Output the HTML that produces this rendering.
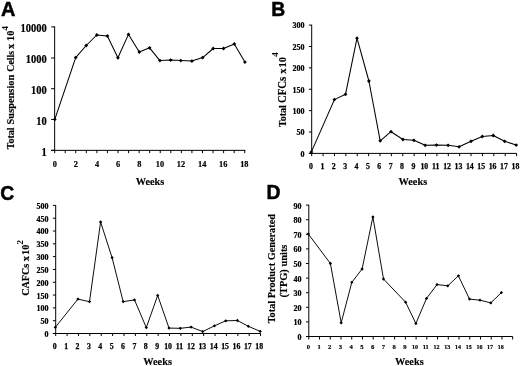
<!DOCTYPE html>
<html><head><meta charset="utf-8"><title>Figure</title>
<style>html,body{margin:0;padding:0;background:#fff;overflow:hidden;}svg{display:block;will-change:transform;filter:grayscale(1);}</style></head><body>
<svg width="520" height="366" viewBox="0 0 520 366">
<rect width="520" height="366" fill="#fff"/>
<g stroke="#000" stroke-width="1.0" fill="none" shape-rendering="auto">
<path d="M54.65 26.40V150.85"/>
<path d="M51.15 150.35H245.38"/>
<path d="M51.15 26.90H54.65"/>
<path d="M51.15 58.00H54.65"/>
<path d="M51.15 88.70H54.65"/>
<path d="M51.15 119.45H54.65"/>
<path d="M51.15 150.35H54.65"/>
<path d="M54.65 150.35V153.15"/>
<path d="M65.21 150.35V153.15"/>
<path d="M75.77 150.35V153.15"/>
<path d="M86.33 150.35V153.15"/>
<path d="M96.89 150.35V153.15"/>
<path d="M107.45 150.35V153.15"/>
<path d="M118.01 150.35V153.15"/>
<path d="M128.57 150.35V153.15"/>
<path d="M139.13 150.35V153.15"/>
<path d="M149.69 150.35V153.15"/>
<path d="M160.25 150.35V153.15"/>
<path d="M170.81 150.35V153.15"/>
<path d="M181.37 150.35V153.15"/>
<path d="M191.93 150.35V153.15"/>
<path d="M202.49 150.35V153.15"/>
<path d="M213.05 150.35V153.15"/>
<path d="M223.61 150.35V153.15"/>
<path d="M234.17 150.35V153.15"/>
<path d="M244.73 150.35V153.15"/>
</g>
<g font-family='"Liberation Serif", serif' font-weight="bold" font-size="10.5" text-anchor="end" fill="#000" stroke="#000" stroke-width="0.2">
<text transform="translate(46.70 32.06) scale(1 1.1)">10000</text>
<text transform="translate(46.70 63.16) scale(1 1.1)">1000</text>
<text transform="translate(46.70 93.86) scale(1 1.1)">100</text>
<text transform="translate(46.70 124.61) scale(1 1.1)">10</text>
<text transform="translate(46.70 155.51) scale(1 1.1)">1</text>
</g>
<g font-family='"Liberation Serif", serif' font-weight="bold" font-size="8.3" text-anchor="middle" fill="#000" stroke="#000" stroke-width="0.2">
<text x="54.80" y="166.80">0</text>
<text x="75.92" y="166.80">2</text>
<text x="97.04" y="166.80">4</text>
<text x="118.16" y="166.80">6</text>
<text x="139.28" y="166.80">8</text>
<text x="159.90" y="166.80">10</text>
<text x="181.02" y="166.80">12</text>
<text x="202.14" y="166.80">14</text>
<text x="223.26" y="166.80">16</text>
<text x="244.38" y="166.80">18</text>
</g>
<text transform="translate(150.00 184.90) scale(1 1.06)" font-family='"Liberation Serif", serif' font-weight="bold" font-size="10.5" text-anchor="middle" textLength="28.6" lengthAdjust="spacingAndGlyphs" stroke="#000" stroke-width="0.12">Weeks</text>
<path d="M54.80 119.40L75.70 57.60L86.20 45.50L96.80 35.00L107.40 36.00L117.90 57.80L128.50 34.40L139.30 52.00L149.60 47.80L159.90 60.60L170.70 60.10L180.80 60.60L191.90 61.10L202.70 57.60L213.20 48.50L223.50 48.50L234.30 44.00L244.90 62.10" fill="none" stroke="#000" stroke-width="1.05" stroke-linejoin="round"/>
<g fill="#000">
<path d="M54.80 117.50L56.70 119.40L54.80 121.30L52.90 119.40Z"/>
<path d="M75.70 55.70L77.60 57.60L75.70 59.50L73.80 57.60Z"/>
<path d="M86.20 43.60L88.10 45.50L86.20 47.40L84.30 45.50Z"/>
<path d="M96.80 33.10L98.70 35.00L96.80 36.90L94.90 35.00Z"/>
<path d="M107.40 34.10L109.30 36.00L107.40 37.90L105.50 36.00Z"/>
<path d="M117.90 55.90L119.80 57.80L117.90 59.70L116.00 57.80Z"/>
<path d="M128.50 32.50L130.40 34.40L128.50 36.30L126.60 34.40Z"/>
<path d="M139.30 50.10L141.20 52.00L139.30 53.90L137.40 52.00Z"/>
<path d="M149.60 45.90L151.50 47.80L149.60 49.70L147.70 47.80Z"/>
<path d="M159.90 58.70L161.80 60.60L159.90 62.50L158.00 60.60Z"/>
<path d="M170.70 58.20L172.60 60.10L170.70 62.00L168.80 60.10Z"/>
<path d="M180.80 58.70L182.70 60.60L180.80 62.50L178.90 60.60Z"/>
<path d="M191.90 59.20L193.80 61.10L191.90 63.00L190.00 61.10Z"/>
<path d="M202.70 55.70L204.60 57.60L202.70 59.50L200.80 57.60Z"/>
<path d="M213.20 46.60L215.10 48.50L213.20 50.40L211.30 48.50Z"/>
<path d="M223.50 46.60L225.40 48.50L223.50 50.40L221.60 48.50Z"/>
<path d="M234.30 42.10L236.20 44.00L234.30 45.90L232.40 44.00Z"/>
<path d="M244.90 60.20L246.80 62.10L244.90 64.00L243.00 62.10Z"/>
</g>
<text transform="translate(1.0 15.7) scale(0.98 1)" font-family='"Liberation Sans", sans-serif' font-weight="bold" font-size="20.4" stroke="#000" stroke-width="0.5" stroke-linejoin="miter">A</text>
<text transform="translate(14.10 149.30) rotate(-90) scale(1 1.09)" font-family='"Liberation Serif", serif' font-weight="bold" font-size="10" fill="#000" stroke="#000" stroke-width="0.15">Total</text>
<text transform="translate(14.10 124.40) rotate(-90) scale(1 1.09)" font-family='"Liberation Serif", serif' font-weight="bold" font-size="10.4" fill="#000" stroke="#000" stroke-width="0.15">Suspension</text>
<text transform="translate(14.10 71.70) rotate(-90) scale(1 1.09)" font-family='"Liberation Serif", serif' font-weight="bold" font-size="9.9" fill="#000" stroke="#000" stroke-width="0.15">Cells</text>
<text transform="translate(14.10 49.00) rotate(-90) scale(1 1.09)" font-family='"Liberation Serif", serif' font-weight="bold" font-size="10.4" fill="#000" stroke="#000" stroke-width="0.15">x</text>
<text transform="translate(14.10 40.90) rotate(-90) scale(1 1.09)" font-family='"Liberation Serif", serif' font-weight="bold" font-size="10.4" fill="#000" stroke="#000" stroke-width="0.15">10</text>
<text transform="translate(8.30 30.40) rotate(-90)" font-family='"Liberation Serif", serif' font-weight="bold" font-size="9" fill="#000">4</text>
<g stroke="#000" stroke-width="1.0" fill="none" shape-rendering="auto">
<path d="M311.70 24.70V153.90"/>
<path d="M308.90 153.40H516.69"/>
<path d="M308.90 25.10H311.70"/>
<path d="M308.90 46.48H311.70"/>
<path d="M308.90 67.87H311.70"/>
<path d="M308.90 89.25H311.70"/>
<path d="M308.90 110.63H311.70"/>
<path d="M308.90 132.01H311.70"/>
<path d="M308.90 153.40H311.70"/>
<path d="M311.70 153.40V156.20"/>
<path d="M323.08 153.40V156.20"/>
<path d="M334.47 153.40V156.20"/>
<path d="M345.85 153.40V156.20"/>
<path d="M357.23 153.40V156.20"/>
<path d="M368.62 153.40V156.20"/>
<path d="M380.00 153.40V156.20"/>
<path d="M391.38 153.40V156.20"/>
<path d="M402.76 153.40V156.20"/>
<path d="M414.15 153.40V156.20"/>
<path d="M425.53 153.40V156.20"/>
<path d="M436.91 153.40V156.20"/>
<path d="M448.30 153.40V156.20"/>
<path d="M459.68 153.40V156.20"/>
<path d="M471.06 153.40V156.20"/>
<path d="M482.44 153.40V156.20"/>
<path d="M493.83 153.40V156.20"/>
<path d="M505.21 153.40V156.20"/>
<path d="M516.59 153.40V156.20"/>
</g>
<g font-family='"Liberation Serif", serif' font-weight="bold" font-size="8" text-anchor="end" fill="#000" stroke="#000" stroke-width="0.22">
<text transform="translate(304.60 28.44) scale(1 1.0)">300</text>
<text transform="translate(304.60 49.82) scale(1 1.0)">250</text>
<text transform="translate(304.60 71.21) scale(1 1.0)">200</text>
<text transform="translate(304.60 92.59) scale(1 1.0)">150</text>
<text transform="translate(304.60 113.97) scale(1 1.0)">100</text>
<text transform="translate(304.60 135.35) scale(1 1.0)">50</text>
<text transform="translate(304.60 156.74) scale(1 1.0)">0</text>
</g>
<g font-family='"Liberation Serif", serif' font-weight="bold" font-size="7.8" text-anchor="middle" fill="#000" stroke="#000" stroke-width="0.25">
<text x="311.00" y="168.50">0</text>
<text x="322.38" y="168.50">1</text>
<text x="333.77" y="168.50">2</text>
<text x="345.15" y="168.50">3</text>
<text x="356.53" y="168.50">4</text>
<text x="367.92" y="168.50">5</text>
<text x="379.30" y="168.50">6</text>
<text x="390.68" y="168.50">7</text>
<text x="402.06" y="168.50">8</text>
<text x="413.45" y="168.50">9</text>
<text x="424.33" y="168.50">10</text>
<text x="435.71" y="168.50">11</text>
<text x="447.10" y="168.50">12</text>
<text x="458.48" y="168.50">13</text>
<text x="469.86" y="168.50">14</text>
<text x="481.24" y="168.50">15</text>
<text x="492.63" y="168.50">16</text>
<text x="504.01" y="168.50">17</text>
<text x="515.39" y="168.50">18</text>
</g>
<text transform="translate(412.85 184.90) scale(1 1.06)" font-family='"Liberation Serif", serif' font-weight="bold" font-size="10.5" text-anchor="middle" textLength="28.6" lengthAdjust="spacingAndGlyphs" stroke="#000" stroke-width="0.12">Weeks</text>
<path d="M311.30 152.10L334.40 99.60L345.50 94.30L357.00 38.20L368.90 81.00L380.20 140.80L391.00 131.70L403.00 139.50L413.90 140.30L425.20 145.30L436.50 145.10L448.10 145.30L459.10 146.80L471.00 141.30L482.30 136.50L493.30 135.50L504.70 141.30L516.20 145.10" fill="none" stroke="#000" stroke-width="1.05" stroke-linejoin="round"/>
<g fill="#000">
<path d="M311.30 150.20L313.20 152.10L311.30 154.00L309.40 152.10Z"/>
<path d="M334.40 97.70L336.30 99.60L334.40 101.50L332.50 99.60Z"/>
<path d="M345.50 92.40L347.40 94.30L345.50 96.20L343.60 94.30Z"/>
<path d="M357.00 36.30L358.90 38.20L357.00 40.10L355.10 38.20Z"/>
<path d="M368.90 79.10L370.80 81.00L368.90 82.90L367.00 81.00Z"/>
<path d="M380.20 138.90L382.10 140.80L380.20 142.70L378.30 140.80Z"/>
<path d="M391.00 129.80L392.90 131.70L391.00 133.60L389.10 131.70Z"/>
<path d="M403.00 137.60L404.90 139.50L403.00 141.40L401.10 139.50Z"/>
<path d="M413.90 138.40L415.80 140.30L413.90 142.20L412.00 140.30Z"/>
<path d="M425.20 143.40L427.10 145.30L425.20 147.20L423.30 145.30Z"/>
<path d="M436.50 143.20L438.40 145.10L436.50 147.00L434.60 145.10Z"/>
<path d="M448.10 143.40L450.00 145.30L448.10 147.20L446.20 145.30Z"/>
<path d="M459.10 144.90L461.00 146.80L459.10 148.70L457.20 146.80Z"/>
<path d="M471.00 139.40L472.90 141.30L471.00 143.20L469.10 141.30Z"/>
<path d="M482.30 134.60L484.20 136.50L482.30 138.40L480.40 136.50Z"/>
<path d="M493.30 133.60L495.20 135.50L493.30 137.40L491.40 135.50Z"/>
<path d="M504.70 139.40L506.60 141.30L504.70 143.20L502.80 141.30Z"/>
<path d="M516.20 143.20L518.10 145.10L516.20 147.00L514.30 145.10Z"/>
</g>
<text transform="translate(271.15 15.55) scale(0.95 1)" font-family='"Liberation Sans", sans-serif' font-weight="bold" font-size="20.4" stroke="#000" stroke-width="0.5" stroke-linejoin="miter">B</text>
<text transform="translate(285.70 127.00) rotate(-90) scale(1 1.09)" font-family='"Liberation Serif", serif' font-weight="bold" font-size="10" fill="#000" stroke="#000" stroke-width="0.15">Total</text>
<text transform="translate(285.70 103.00) rotate(-90) scale(1 1.09)" font-family='"Liberation Serif", serif' font-weight="bold" font-size="10.7" fill="#000" stroke="#000" stroke-width="0.15">CFCs</text>
<text transform="translate(285.70 73.80) rotate(-90) scale(1 1.09)" font-family='"Liberation Serif", serif' font-weight="bold" font-size="10.4" fill="#000" stroke="#000" stroke-width="0.15">x</text>
<text transform="translate(285.70 67.40) rotate(-90) scale(1 1.09)" font-family='"Liberation Serif", serif' font-weight="bold" font-size="10.4" fill="#000" stroke="#000" stroke-width="0.15">10</text>
<text transform="translate(278.20 56.80) rotate(-90)" font-family='"Liberation Serif", serif' font-weight="bold" font-size="9" fill="#000">4</text>
<g stroke="#000" stroke-width="1.0" fill="none" shape-rendering="auto">
<path d="M55.70 205.00V334.00"/>
<path d="M52.90 333.50H260.69"/>
<path d="M52.90 205.40H55.70"/>
<path d="M52.90 218.21H55.70"/>
<path d="M52.90 231.02H55.70"/>
<path d="M52.90 243.83H55.70"/>
<path d="M52.90 256.64H55.70"/>
<path d="M52.90 269.45H55.70"/>
<path d="M52.90 282.26H55.70"/>
<path d="M52.90 295.07H55.70"/>
<path d="M52.90 307.88H55.70"/>
<path d="M52.90 320.69H55.70"/>
<path d="M52.90 333.50H55.70"/>
<path d="M55.70 333.50V336.00"/>
<path d="M67.08 333.50V336.00"/>
<path d="M78.47 333.50V336.00"/>
<path d="M89.85 333.50V336.00"/>
<path d="M101.23 333.50V336.00"/>
<path d="M112.61 333.50V336.00"/>
<path d="M124.00 333.50V336.00"/>
<path d="M135.38 333.50V336.00"/>
<path d="M146.76 333.50V336.00"/>
<path d="M158.15 333.50V336.00"/>
<path d="M169.53 333.50V336.00"/>
<path d="M180.91 333.50V336.00"/>
<path d="M192.30 333.50V336.00"/>
<path d="M203.68 333.50V336.00"/>
<path d="M215.06 333.50V336.00"/>
<path d="M226.44 333.50V336.00"/>
<path d="M237.83 333.50V336.00"/>
<path d="M249.21 333.50V336.00"/>
<path d="M260.59 333.50V336.00"/>
</g>
<g font-family='"Liberation Serif", serif' font-weight="bold" font-size="8" text-anchor="end" fill="#000" stroke="#000" stroke-width="0.22">
<text transform="translate(48.40 208.84) scale(1 1.0)">500</text>
<text transform="translate(48.40 221.65) scale(1 1.0)">450</text>
<text transform="translate(48.40 234.46) scale(1 1.0)">400</text>
<text transform="translate(48.40 247.27) scale(1 1.0)">350</text>
<text transform="translate(48.40 260.08) scale(1 1.0)">300</text>
<text transform="translate(48.40 272.89) scale(1 1.0)">250</text>
<text transform="translate(48.40 285.70) scale(1 1.0)">200</text>
<text transform="translate(48.40 298.51) scale(1 1.0)">150</text>
<text transform="translate(48.40 311.32) scale(1 1.0)">100</text>
<text transform="translate(48.40 324.13) scale(1 1.0)">50</text>
<text transform="translate(48.40 336.94) scale(1 1.0)">0</text>
</g>
<g font-family='"Liberation Serif", serif' font-weight="bold" font-size="7.8" text-anchor="middle" fill="#000" stroke="#000" stroke-width="0.25">
<text x="54.70" y="348.50">0</text>
<text x="66.08" y="348.50">1</text>
<text x="77.47" y="348.50">2</text>
<text x="88.85" y="348.50">3</text>
<text x="100.23" y="348.50">4</text>
<text x="111.61" y="348.50">5</text>
<text x="123.00" y="348.50">6</text>
<text x="134.38" y="348.50">7</text>
<text x="145.76" y="348.50">8</text>
<text x="157.15" y="348.50">9</text>
<text x="168.13" y="348.50">10</text>
<text x="179.51" y="348.50">11</text>
<text x="190.90" y="348.50">12</text>
<text x="202.28" y="348.50">13</text>
<text x="213.66" y="348.50">14</text>
<text x="225.04" y="348.50">15</text>
<text x="236.43" y="348.50">16</text>
<text x="247.81" y="348.50">17</text>
<text x="259.19" y="348.50">18</text>
</g>
<text transform="translate(157.60 364.90) scale(1 1.06)" font-family='"Liberation Serif", serif' font-weight="bold" font-size="10.5" text-anchor="middle" textLength="28.6" lengthAdjust="spacingAndGlyphs" stroke="#000" stroke-width="0.12">Weeks</text>
<path d="M55.30 327.30L77.90 299.10L89.50 301.70L100.60 222.00L112.10 257.70L123.20 301.70L134.50 299.90L146.30 327.60L157.70 295.40L169.00 328.10L180.30 328.30L191.10 327.10L202.70 331.60L214.50 325.80L225.80 320.80L237.40 320.50L248.40 326.30L260.20 331.40" fill="none" stroke="#000" stroke-width="0.95" stroke-linejoin="round"/>
<g fill="#000">
<path d="M55.30 325.65L56.95 327.30L55.30 328.95L53.65 327.30Z"/>
<path d="M77.90 297.45L79.55 299.10L77.90 300.75L76.25 299.10Z"/>
<path d="M89.50 300.05L91.15 301.70L89.50 303.35L87.85 301.70Z"/>
<path d="M100.60 220.35L102.25 222.00L100.60 223.65L98.95 222.00Z"/>
<path d="M112.10 256.05L113.75 257.70L112.10 259.35L110.45 257.70Z"/>
<path d="M123.20 300.05L124.85 301.70L123.20 303.35L121.55 301.70Z"/>
<path d="M134.50 298.25L136.15 299.90L134.50 301.55L132.85 299.90Z"/>
<path d="M146.30 325.95L147.95 327.60L146.30 329.25L144.65 327.60Z"/>
<path d="M157.70 293.75L159.35 295.40L157.70 297.05L156.05 295.40Z"/>
<path d="M169.00 326.45L170.65 328.10L169.00 329.75L167.35 328.10Z"/>
<path d="M180.30 326.65L181.95 328.30L180.30 329.95L178.65 328.30Z"/>
<path d="M191.10 325.45L192.75 327.10L191.10 328.75L189.45 327.10Z"/>
<path d="M202.70 329.95L204.35 331.60L202.70 333.25L201.05 331.60Z"/>
<path d="M214.50 324.15L216.15 325.80L214.50 327.45L212.85 325.80Z"/>
<path d="M225.80 319.15L227.45 320.80L225.80 322.45L224.15 320.80Z"/>
<path d="M237.40 318.85L239.05 320.50L237.40 322.15L235.75 320.50Z"/>
<path d="M248.40 324.65L250.05 326.30L248.40 327.95L246.75 326.30Z"/>
<path d="M260.20 329.75L261.85 331.40L260.20 333.05L258.55 331.40Z"/>
</g>
<text transform="translate(0.2 199.65) scale(0.95 1)" font-family='"Liberation Sans", sans-serif' font-weight="bold" font-size="20.4" stroke="#000" stroke-width="0.5" stroke-linejoin="miter">C</text>
<text transform="translate(29.20 295.70) rotate(-90) scale(1 1.09)" font-family='"Liberation Serif", serif' font-weight="bold" font-size="10.1" fill="#000" stroke="#000" stroke-width="0.15">CAFCs</text>
<text transform="translate(29.20 261.20) rotate(-90) scale(1 1.09)" font-family='"Liberation Serif", serif' font-weight="bold" font-size="10.4" fill="#000" stroke="#000" stroke-width="0.15">x</text>
<text transform="translate(29.20 255.00) rotate(-90) scale(1 1.09)" font-family='"Liberation Serif", serif' font-weight="bold" font-size="10.4" fill="#000" stroke="#000" stroke-width="0.15">10</text>
<text transform="translate(22.50 244.50) rotate(-90)" font-family='"Liberation Serif", serif' font-weight="bold" font-size="9" fill="#000">2</text>
<g stroke="#000" stroke-width="1.0" fill="none" shape-rendering="auto">
<path d="M308.80 204.70V337.00"/>
<path d="M306.00 336.50H512.67"/>
<path d="M306.00 205.10H308.80"/>
<path d="M306.00 219.70H308.80"/>
<path d="M306.00 234.30H308.80"/>
<path d="M306.00 248.90H308.80"/>
<path d="M306.00 263.50H308.80"/>
<path d="M306.00 278.10H308.80"/>
<path d="M306.00 292.70H308.80"/>
<path d="M306.00 307.30H308.80"/>
<path d="M306.00 321.90H308.80"/>
<path d="M306.00 336.50H308.80"/>
<path d="M308.80 336.50V339.50"/>
<path d="M319.53 336.50V339.50"/>
<path d="M330.26 336.50V339.50"/>
<path d="M340.99 336.50V339.50"/>
<path d="M351.72 336.50V339.50"/>
<path d="M362.45 336.50V339.50"/>
<path d="M373.18 336.50V339.50"/>
<path d="M383.91 336.50V339.50"/>
<path d="M394.64 336.50V339.50"/>
<path d="M405.37 336.50V339.50"/>
<path d="M416.10 336.50V339.50"/>
<path d="M426.83 336.50V339.50"/>
<path d="M437.56 336.50V339.50"/>
<path d="M448.29 336.50V339.50"/>
<path d="M459.02 336.50V339.50"/>
<path d="M469.75 336.50V339.50"/>
<path d="M480.48 336.50V339.50"/>
<path d="M491.21 336.50V339.50"/>
<path d="M501.94 336.50V339.50"/>
<path d="M512.67 336.50V339.50"/>
</g>
<g font-family='"Liberation Serif", serif' font-weight="bold" font-size="8" text-anchor="end" fill="#000" stroke="#000" stroke-width="0.22">
<text transform="translate(301.45 208.64) scale(1 1.0)">90</text>
<text transform="translate(301.45 223.24) scale(1 1.0)">80</text>
<text transform="translate(301.45 237.84) scale(1 1.0)">70</text>
<text transform="translate(301.45 252.44) scale(1 1.0)">60</text>
<text transform="translate(301.45 267.04) scale(1 1.0)">50</text>
<text transform="translate(301.45 281.64) scale(1 1.0)">40</text>
<text transform="translate(301.45 296.24) scale(1 1.0)">30</text>
<text transform="translate(301.45 310.84) scale(1 1.0)">20</text>
<text transform="translate(301.45 325.44) scale(1 1.0)">10</text>
<text transform="translate(301.45 340.04) scale(1 1.0)">0</text>
</g>
<g font-family='"Liberation Serif", serif' font-weight="bold" font-size="6.6" text-anchor="middle" fill="#000" stroke="#000" stroke-width="0.18">
<text x="308.30" y="349.40">0</text>
<text x="319.03" y="349.40">1</text>
<text x="329.76" y="349.40">2</text>
<text x="340.49" y="349.40">3</text>
<text x="351.22" y="349.40">4</text>
<text x="361.95" y="349.40">5</text>
<text x="372.68" y="349.40">6</text>
<text x="383.41" y="349.40">7</text>
<text x="394.14" y="349.40">8</text>
<text x="404.87" y="349.40">9</text>
<text x="415.00" y="349.40" textLength="6.0" lengthAdjust="spacingAndGlyphs">10</text>
<text x="425.73" y="349.40" textLength="6.0" lengthAdjust="spacingAndGlyphs">11</text>
<text x="436.46" y="349.40" textLength="6.0" lengthAdjust="spacingAndGlyphs">12</text>
<text x="447.19" y="349.40" textLength="6.0" lengthAdjust="spacingAndGlyphs">13</text>
<text x="457.92" y="349.40" textLength="6.0" lengthAdjust="spacingAndGlyphs">14</text>
<text x="468.65" y="349.40" textLength="6.0" lengthAdjust="spacingAndGlyphs">15</text>
<text x="479.38" y="349.40" textLength="6.0" lengthAdjust="spacingAndGlyphs">16</text>
<text x="490.11" y="349.40" textLength="6.0" lengthAdjust="spacingAndGlyphs">17</text>
<text x="500.84" y="349.40" textLength="6.0" lengthAdjust="spacingAndGlyphs">18</text>
</g>
<text transform="translate(409.35 364.80) scale(1 1.06)" font-family='"Liberation Serif", serif' font-weight="bold" font-size="10.5" text-anchor="middle" textLength="28.6" lengthAdjust="spacingAndGlyphs" stroke="#000" stroke-width="0.12">Weeks</text>
<path d="M308.30 234.00L330.40 263.50L341.20 322.80L351.80 282.30L362.10 269.00L372.90 216.90L383.50 279.00L405.60 302.20L415.90 323.50L426.50 298.40L437.00 284.60L447.80 285.80L458.40 275.80L469.50 299.10L480.00 300.20L490.80 302.90L501.40 292.60" fill="none" stroke="#000" stroke-width="0.95" stroke-linejoin="round"/>
<g fill="#000">
<path d="M308.30 232.35L309.95 234.00L308.30 235.65L306.65 234.00Z"/>
<path d="M330.40 261.85L332.05 263.50L330.40 265.15L328.75 263.50Z"/>
<path d="M341.20 321.15L342.85 322.80L341.20 324.45L339.55 322.80Z"/>
<path d="M351.80 280.65L353.45 282.30L351.80 283.95L350.15 282.30Z"/>
<path d="M362.10 267.35L363.75 269.00L362.10 270.65L360.45 269.00Z"/>
<path d="M372.90 215.25L374.55 216.90L372.90 218.55L371.25 216.90Z"/>
<path d="M383.50 277.35L385.15 279.00L383.50 280.65L381.85 279.00Z"/>
<path d="M405.60 300.55L407.25 302.20L405.60 303.85L403.95 302.20Z"/>
<path d="M415.90 321.85L417.55 323.50L415.90 325.15L414.25 323.50Z"/>
<path d="M426.50 296.75L428.15 298.40L426.50 300.05L424.85 298.40Z"/>
<path d="M437.00 282.95L438.65 284.60L437.00 286.25L435.35 284.60Z"/>
<path d="M447.80 284.15L449.45 285.80L447.80 287.45L446.15 285.80Z"/>
<path d="M458.40 274.15L460.05 275.80L458.40 277.45L456.75 275.80Z"/>
<path d="M469.50 297.45L471.15 299.10L469.50 300.75L467.85 299.10Z"/>
<path d="M480.00 298.55L481.65 300.20L480.00 301.85L478.35 300.20Z"/>
<path d="M490.80 301.25L492.45 302.90L490.80 304.55L489.15 302.90Z"/>
<path d="M501.40 290.95L503.05 292.60L501.40 294.25L499.75 292.60Z"/>
</g>
<text transform="translate(266.45 199.45) scale(0.95 1)" font-family='"Liberation Sans", sans-serif' font-weight="bold" font-size="20.4" stroke="#000" stroke-width="0.5" stroke-linejoin="miter">D</text>
<text transform="translate(275.30 323.30) rotate(-90) scale(1 1.09)" font-family='"Liberation Serif", serif' font-weight="bold" font-size="10.3" fill="#000" stroke="#000" stroke-width="0.15" textLength="109.3" lengthAdjust="spacingAndGlyphs">Total Product Generated</text>
<text transform="translate(286.90 297.50) rotate(-90) scale(1 1.09)" font-family='"Liberation Serif", serif' font-weight="bold" font-size="10.4" fill="#000" stroke="#000" stroke-width="0.15" textLength="52.9" lengthAdjust="spacingAndGlyphs">(TPG) units</text>
</svg></body></html>
